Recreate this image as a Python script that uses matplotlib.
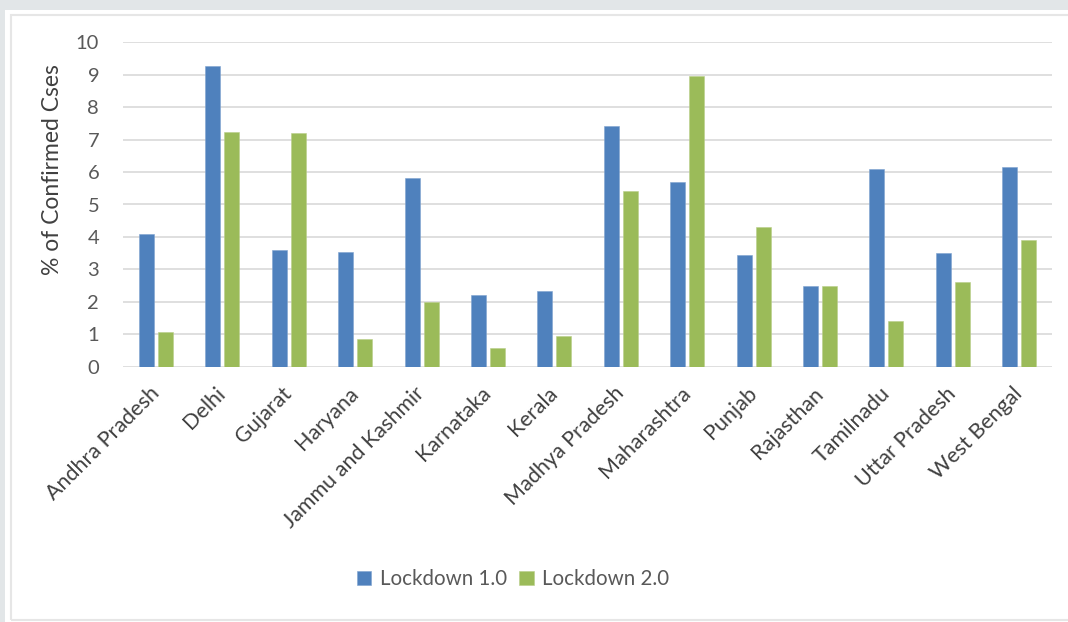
import matplotlib
matplotlib.use("Agg")
import matplotlib.pyplot as plt
from matplotlib.patches import Rectangle
import numpy as np

states = ["Andhra Pradesh", "Delhi", "Gujarat", "Haryana", "Jammu and Kashmir",
          "Karnataka", "Kerala", "Madhya Pradesh", "Maharashtra", "Punjab",
          "Rajasthan", "Tamilnadu", "Uttar Pradesh", "West Bengal"]
lockdown_1 = [4.10, 9.27, 3.59, 3.55, 5.83, 2.21, 2.32, 7.43, 5.68, 3.43,
              2.49, 6.08, 3.50, 6.15]
lockdown_2 = [1.08, 7.23, 7.19, 0.84, 2.00, 0.57, 0.94, 5.43, 8.96, 4.31,
              2.50, 1.40, 2.60, 3.90]
series_names = ["Lockdown 1.0", "Lockdown 2.0"]
y_ticks = list(range(0, 11))

plt.rcParams["font.family"] = ["Lato", "DejaVu Sans"]

W, H = 1068, 622
fig = plt.figure(figsize=(W / 100, H / 100), dpi=100)
fig.patch.set_facecolor("#e2e6e8")

# white card with a faint inner frame
fig.patches.append(Rectangle((5 / W, 0), 1 - 5 / W, 1 - 10 / H,
                             transform=fig.transFigure, facecolor="white",
                             edgecolor="none", zorder=-2))
fig.patches.append(Rectangle((11 / W, 2 / H), 1 - 11 / W + 0.01, 1 - 17 / H,
                             transform=fig.transFigure, facecolor="none",
                             edgecolor="#e6e6e6", linewidth=1.5, zorder=-1))

ax = fig.add_axes([122.8 / W, 255.3 / H, 929.6 / W, 324.4 / H])
ax.set_facecolor("none")

x = np.arange(len(states))
bw = 0.226
off = 0.143
ax.bar(x - off, lockdown_1, bw, color="#4f81bd", edgecolor="#7fa3d0",
       linewidth=0.4, label=series_names[0], zorder=3)
ax.bar(x + off, lockdown_2, bw, color="#9bbb59", edgecolor="#b9cf8a",
       linewidth=0.4, label=series_names[1], zorder=3)

ax.set_xlim(-0.5, len(states) - 0.5)
ax.set_ylim(0, 10)
ax.set_yticks(y_ticks)
ax.grid(axis="y", color="#d9d9d9", linewidth=1.2, zorder=0)
ax.set_axisbelow(True)
for s in ax.spines.values():
    s.set_visible(False)
ax.tick_params(axis="both", length=0)
ax.tick_params(axis="y", labelsize=14.5, labelcolor="#595959", pad=17)

ax.set_xticks(x)
ax.set_xticklabels(states, rotation=45, ha="right", va="center",
                   rotation_mode="anchor", fontsize=15.5, color="#404040")
ax.tick_params(axis="x", pad=17)

ax.set_ylabel("% of Confirmed Cses", fontsize=16.5, color="#404040")
ax.yaxis.set_label_coords(-0.064, 0.609)

leg = fig.legend(loc="center", bbox_to_anchor=(513 / W, 1 - 579 / H),
                 ncol=2, frameon=False, fontsize=14.8, handlelength=0.7,
                 handleheight=0.7, handletextpad=0.4, columnspacing=0.6,
                 labelcolor="#595959")

fig.savefig("out.png", dpi=100, facecolor=fig.get_facecolor())
